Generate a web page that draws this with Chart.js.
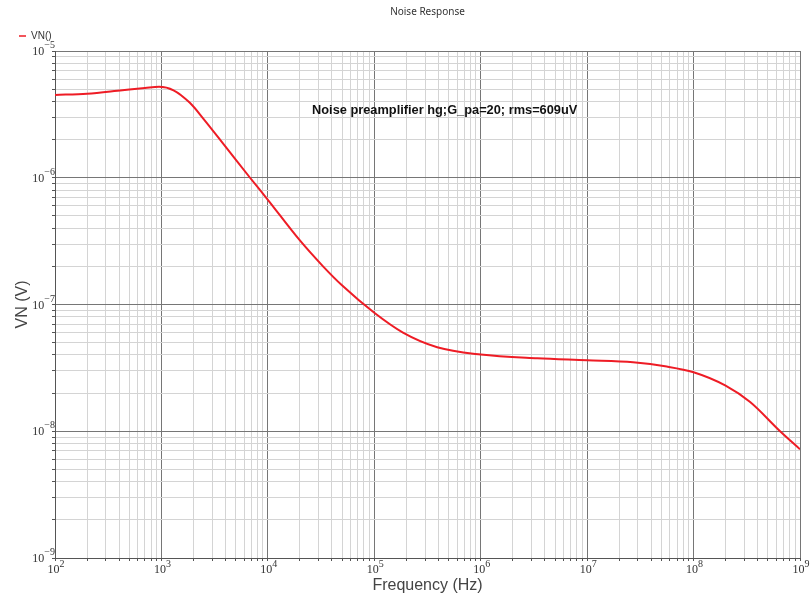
<!DOCTYPE html>
<html>
<head>
<meta charset="utf-8">
<title>Noise Response</title>
<script src="https://cdn.jsdelivr.net/npm/chart.js@4.4.1/dist/chart.umd.min.js"></script>
<style>
    html, body { margin: 0; padding: 0; background: #fff; }
    #wrap { width: 811px; height: 603px; }
</style>
</head>
<body>
<div id="wrap"><canvas id="noiseChart"></canvas></div>
<script>
// Values (log-log)
const freqHz = [100, 200, 430, 700, 950, 1300, 1850, 2450, 4000, 6800, 1e4, 2e4, 3.3e4, 5e4, 1e5,
    1.86e5, 3.9e5, 1e6, 3.4e6, 1e7, 2.7e7, 5.6e7, 1e8, 2e8, 3.4e8, 6.5e8, 1e9];
const vnVolts = [4.5e-6, 4.6e-6, 4.9e-6, 5.1e-6, 5.22e-6, 4.9e-6, 3.9e-6, 2.96e-6, 1.76e-6, 1.0e-6, 6.7e-7,
    3.2e-7, 2.0e-7, 1.41e-7, 8.6e-8, 6.0e-8, 4.6e-8, 4.03e-8, 3.76e-8, 3.63e-8, 3.5e-8, 3.24e-8,
    2.92e-8, 2.29e-8, 1.7e-8, 1.0e-8, 7.2e-9];

// Decade tick labels: 10^n
const xTickExponents = [2, 3, 4, 5, 6, 7, 8, 9];
const yTickExponents = [-9, -8, -7, -6, -5];

const seriesName = 'VN()';
const noteText = 'Noise preamplifier hg;G_pa=20; rms=609uV';

const lineRed = '#ee1c25';
const tickFont = '"Liberation Serif", "DejaVu Serif", serif';

// log ticks at 1..9 x 10^n so every decade gets its minor grid lines
function decadeTicks(exps) {
    const ticks = [];
    for (let i = 0; i < exps.length; i++) {
        const e = exps[i];
        const last = i === exps.length - 1;
        for (let k = 1; k <= (last ? 1 : 9); k++) {
            ticks.push({ value: k * Math.pow(10, e), major: k === 1 });
        }
    }
    return ticks;
}

function gridColor(ctx) {
    return ctx.tick && ctx.tick.major ? '#767676' : '#d4d4d4';
}

function expText(e) {
    return String(e).replace('-', '\u2212');
}

// draws 10^n labels with a raised exponent, placed by the scales
const powerLabels = {
    id: 'powerLabels',
    afterDraw(chart) {
        const c = chart.ctx;
        const xs = chart.scales.x;
        const ys = chart.scales.y;
        c.save();
        c.fillStyle = '#333';
        c.textBaseline = 'alphabetic';

        xTickExponents.forEach(function(e) {
            const px = xs.getPixelForValue(Math.pow(10, e));
            c.font = '12px ' + tickFont;
            const wBase = c.measureText('10').width;
            c.font = '10px ' + tickFont;
            const wExp = c.measureText(expText(e)).width;
            const left = px + 1 - (wBase + wExp) / 2;
            c.font = '12px ' + tickFont;
            c.fillText('10', left, xs.bottom - 30);
            c.font = '10px ' + tickFont;
            c.fillText(expText(e), left + wBase, xs.bottom - 36);
        });

        yTickExponents.forEach(function(e) {
            const py = ys.getPixelForValue(Math.pow(10, e));
            c.font = '10px ' + tickFont;
            const wExp = c.measureText(expText(e)).width;
            c.font = '12px ' + tickFont;
            const wBase = c.measureText('10').width;
            const left = chart.chartArea.left - wExp - wBase;
            c.fillText('10', left, py + 4);
            c.font = '10px ' + tickFont;
            c.fillText(expText(e), left + wBase, py - 3);
        });

        // annotation text inside the plot
        c.font = 'bold 12.8px "Liberation Sans", Arial, sans-serif';
        c.fillStyle = '#111';
        c.textBaseline = 'middle';
        c.fillText(noteText, xs.getPixelForValue(2.6e4), ys.getPixelForValue(3.4e-6));
        c.restore();
    }
};

document.addEventListener('DOMContentLoaded', function() {
    const points = freqHz.map(function(f, i) { return { x: f, y: vnVolts[i] }; });

    new Chart(document.getElementById('noiseChart'), {
        type: 'line',
        data: {
            datasets: [{
                label: seriesName,
                data: points,
                borderColor: lineRed,
                backgroundColor: lineRed,
                borderWidth: 2,
                pointRadius: 0,
                cubicInterpolationMode: 'monotone'
            }]
        },
        options: {
            responsive: true,
            maintainAspectRatio: false,
            animation: false,
            layout: {
                padding: { top: 0, left: 6, right: 11, bottom: 0 }
            },
            plugins: {
                title: {
                    display: true,
                    text: 'Noise Response',
                    fullSize: false,
                    color: '#333',
                    font: { family: '"Noto Sans", sans-serif', size: 10, weight: 'normal', lineHeight: 1 },
                    padding: { top: 4, bottom: 1 }
                },
                legend: {
                    display: true,
                    position: 'top',
                    align: 'start',
                    labels: {
                        color: '#333',
                        boxWidth: 7,
                        boxHeight: 1.5,
                        padding: 13,
                        font: { family: '"Liberation Sans", Arial, sans-serif', size: 10 },
                        generateLabels: function(chart) {
                            return Chart.defaults.plugins.legend.labels.generateLabels(chart).map(function(item) {
                                item.lineWidth = 0;
                                return item;
                            });
                        }
                    }
                },
                tooltip: { enabled: false }
            },
            scales: {
                x: {
                    type: 'logarithmic',
                    min: 1e2,
                    max: 1e9,
                    afterBuildTicks: function(scale) { scale.ticks = decadeTicks(xTickExponents); },
                    afterFit: function(scale) { scale.height = 45; },
                    ticks: { display: false },
                    grid: { color: gridColor, tickLength: 3, tickColor: '#555' },
                    border: { color: '#555' },
                    title: {
                        display: true,
                        text: 'Frequency (Hz)',
                        color: '#444',
                        font: { family: '"Liberation Sans", Arial, sans-serif', size: 16 },
                        padding: { top: 0, bottom: 8 }
                    }
                },
                y: {
                    type: 'logarithmic',
                    min: 1e-9,
                    max: 1e-5,
                    afterBuildTicks: function(scale) { scale.ticks = decadeTicks(yTickExponents); },
                    afterFit: function(scale) {
                        scale.width = 49;
                        scale.paddingTop = 51; // leave room above the plot like the original
                    },
                    ticks: { display: false },
                    grid: { color: gridColor, tickLength: 3, tickColor: '#555' },
                    border: { color: '#555' },
                    title: {
                        display: true,
                        text: 'VN (V)',
                        color: '#444',
                        font: { family: '"Liberation Sans", Arial, sans-serif', size: 16 },
                        padding: { top: 7, bottom: 0 }
                    }
                }
            }
        },
        plugins: [powerLabels]
    });
});
</script>
</body>
</html>
